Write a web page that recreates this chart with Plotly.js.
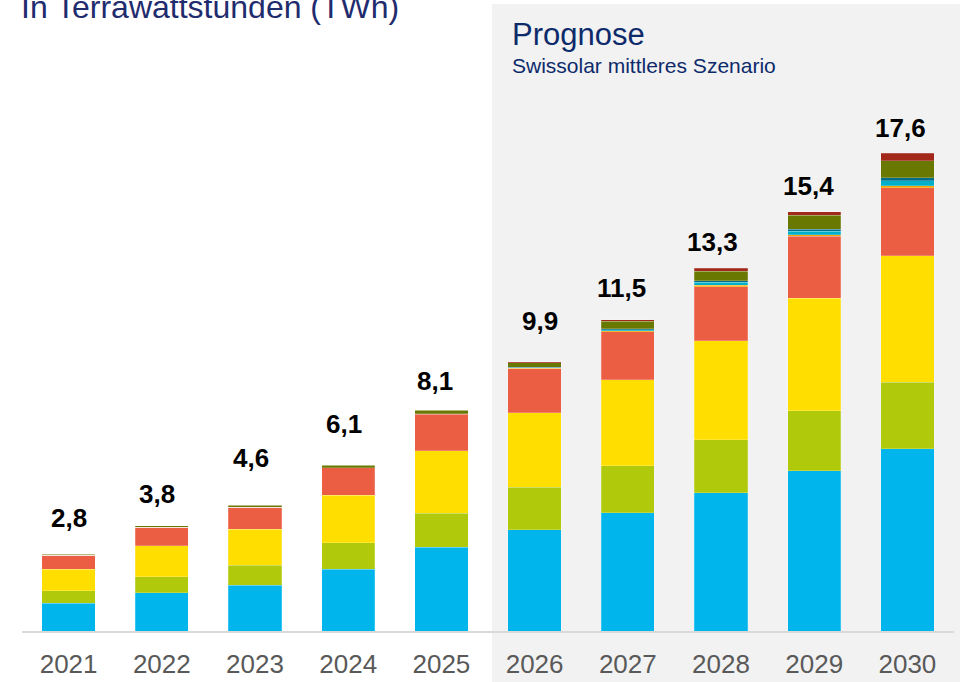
<!DOCTYPE html>
<html>
<head>
<meta charset="utf-8">
<script src="https://cdn.plot.ly/plotly-3.0.1.min.js"></script>
<style>html,body{margin:0;padding:0;background:#fff;}#chart{width:960px;height:682px;}</style>
</head>
<body>
<div id="chart"></div>
<script>
const years = ["2021","2022","2023","2024","2025","2026","2027","2028","2029","2030"];
const totals = [2.8, 3.8, 4.6, 6.1, 8.1, 9.9, 11.5, 13.3, 15.4, 17.6];

const seg1 = [1.02, 1.41, 1.68, 2.27, 3.08, 3.73, 4.35, 5.08, 5.90, 6.71];
const seg2 = [0.46, 0.59, 0.74, 0.98, 1.25, 1.55, 1.73, 1.95, 2.21, 2.44];
const seg3 = [0.80, 1.13, 1.32, 1.74, 2.30, 2.75, 3.16, 3.64, 4.14, 4.65];
const seg4 = [0.51, 0.69, 0.81, 1.01, 1.34, 1.61, 1.77, 2.00, 2.27, 2.51];
const seg5 = [0, 0, 0, 0, 0.03, 0.02, 0.03, 0.06, 0.05, 0.07];
const seg6 = [0, 0, 0, 0, 0, 0.03, 0.05, 0.10, 0.13, 0.18];
const seg7 = [0, 0, 0, 0, 0, 0.02, 0.03, 0.05, 0.09, 0.11];
const seg8 = [0.04, 0.05, 0.07, 0.10, 0.12, 0.16, 0.27, 0.36, 0.51, 0.64];
const seg9 = [0, 0, 0, 0, 0, 0.04, 0.07, 0.11, 0.12, 0.27];

const segNames = ["Segment 1","Segment 2","Segment 3","Segment 4","Segment 5","Segment 6","Segment 7","Segment 8","Segment 9"];
const segColors = ["#00B5EC","#B0CA0B","#FFDE00","#EC5E44","#F5A300","#00B0C8","#006F8E","#687800","#A2281A"];
const segData = [seg1, seg2, seg3, seg4, seg5, seg6, seg7, seg8, seg9];

// label pixel offsets relative to bar tops (style only)
const labelShiftY = [37, 34, 48, 41, 30, 41, 30, 28, 26, 25];
const labelShiftX = [0, -5, -4, -4, -6, 5, -6, -9, -6, -7];

const traces = segData.map((vals, i) => ({
  type: "bar",
  x: years,
  y: vals,
  name: segNames[i],
  marker: {color: segColors[i], line: {color: "rgba(255,255,255,0.35)", width: 0.6}},
  hoverinfo: "x+y+name"
}));

const annotations = totals.map((t, i) => ({
  x: i, y: t, xref: "x", yref: "y",
  text: t.toFixed(1).replace(".", ","),
  showarrow: false, yanchor: "middle", xanchor: "center",
  yshift: labelShiftY[i], xshift: labelShiftX[i],
  font: {family: "Liberation Sans, Arial, sans-serif", size: 26, color: "#000000", weight: "bold"}
}));

const plotTop = 4, plotBottom = 631, plotH = plotBottom - plotTop;
const plotLeft = 22, plotW = 932;
const py = v => (plotBottom - v) / plotH;
const px = v => (v - plotLeft) / plotW;

annotations.push({
  xref: "paper", yref: "paper", x: px(19), y: py(7), xanchor: "left", yanchor: "middle",
  text: "In Terrawattstunden (TWh)", showarrow: false,
  font: {family: "Liberation Sans, Arial, sans-serif", size: 32, color: "#1F2C6E"}
});
annotations.push({
  xref: "paper", yref: "paper", x: px(510), y: py(34), xanchor: "left", yanchor: "middle",
  text: "Prognose", showarrow: false,
  font: {family: "Liberation Sans, Arial, sans-serif", size: 31, color: "#0D2A6B"}
});
annotations.push({
  xref: "paper", yref: "paper", x: px(510), y: py(65), xanchor: "left", yanchor: "middle",
  text: "Swissolar mittleres Szenario", showarrow: false,
  font: {family: "Liberation Sans, Arial, sans-serif", size: 21, color: "#0D2A6B"}
});

const layout = {
  width: 960, height: 682,
  margin: {l: plotLeft, r: 960 - plotLeft - plotW, t: plotTop, b: 682 - plotBottom, pad: 0},
  paper_bgcolor: "#FFFFFF",
  plot_bgcolor: "rgba(0,0,0,0)",
  barmode: "stack",
  bargap: 0.428,
  showlegend: false,
  font: {family: "Liberation Sans, Arial, sans-serif"},
  xaxis: {
    type: "category", range: [-0.5, years.length - 0.5], autorange: false,
    showline: true, linecolor: "#D9D9D9", linewidth: 1.5,
    ticks: "", showgrid: false, zeroline: false,
    tickfont: {size: 26, color: "#595959"},
    ticklabelstandoff: 9, fixedrange: true
  },
  yaxis: {visible: false, range: [0, plotH / 27.18], autorange: false, showgrid: false, zeroline: false, fixedrange: true},
  shapes: [{
    type: "rect", xref: "paper", yref: "paper", layer: "below",
    x0: px(492), x1: px(962), y0: py(684), y1: py(4),
    fillcolor: "#F2F2F2", line: {width: 0}
  }],
  annotations: annotations
};

Plotly.newPlot("chart", traces, layout, {displayModeBar: false, staticPlot: true});
</script>
</body>
</html>
